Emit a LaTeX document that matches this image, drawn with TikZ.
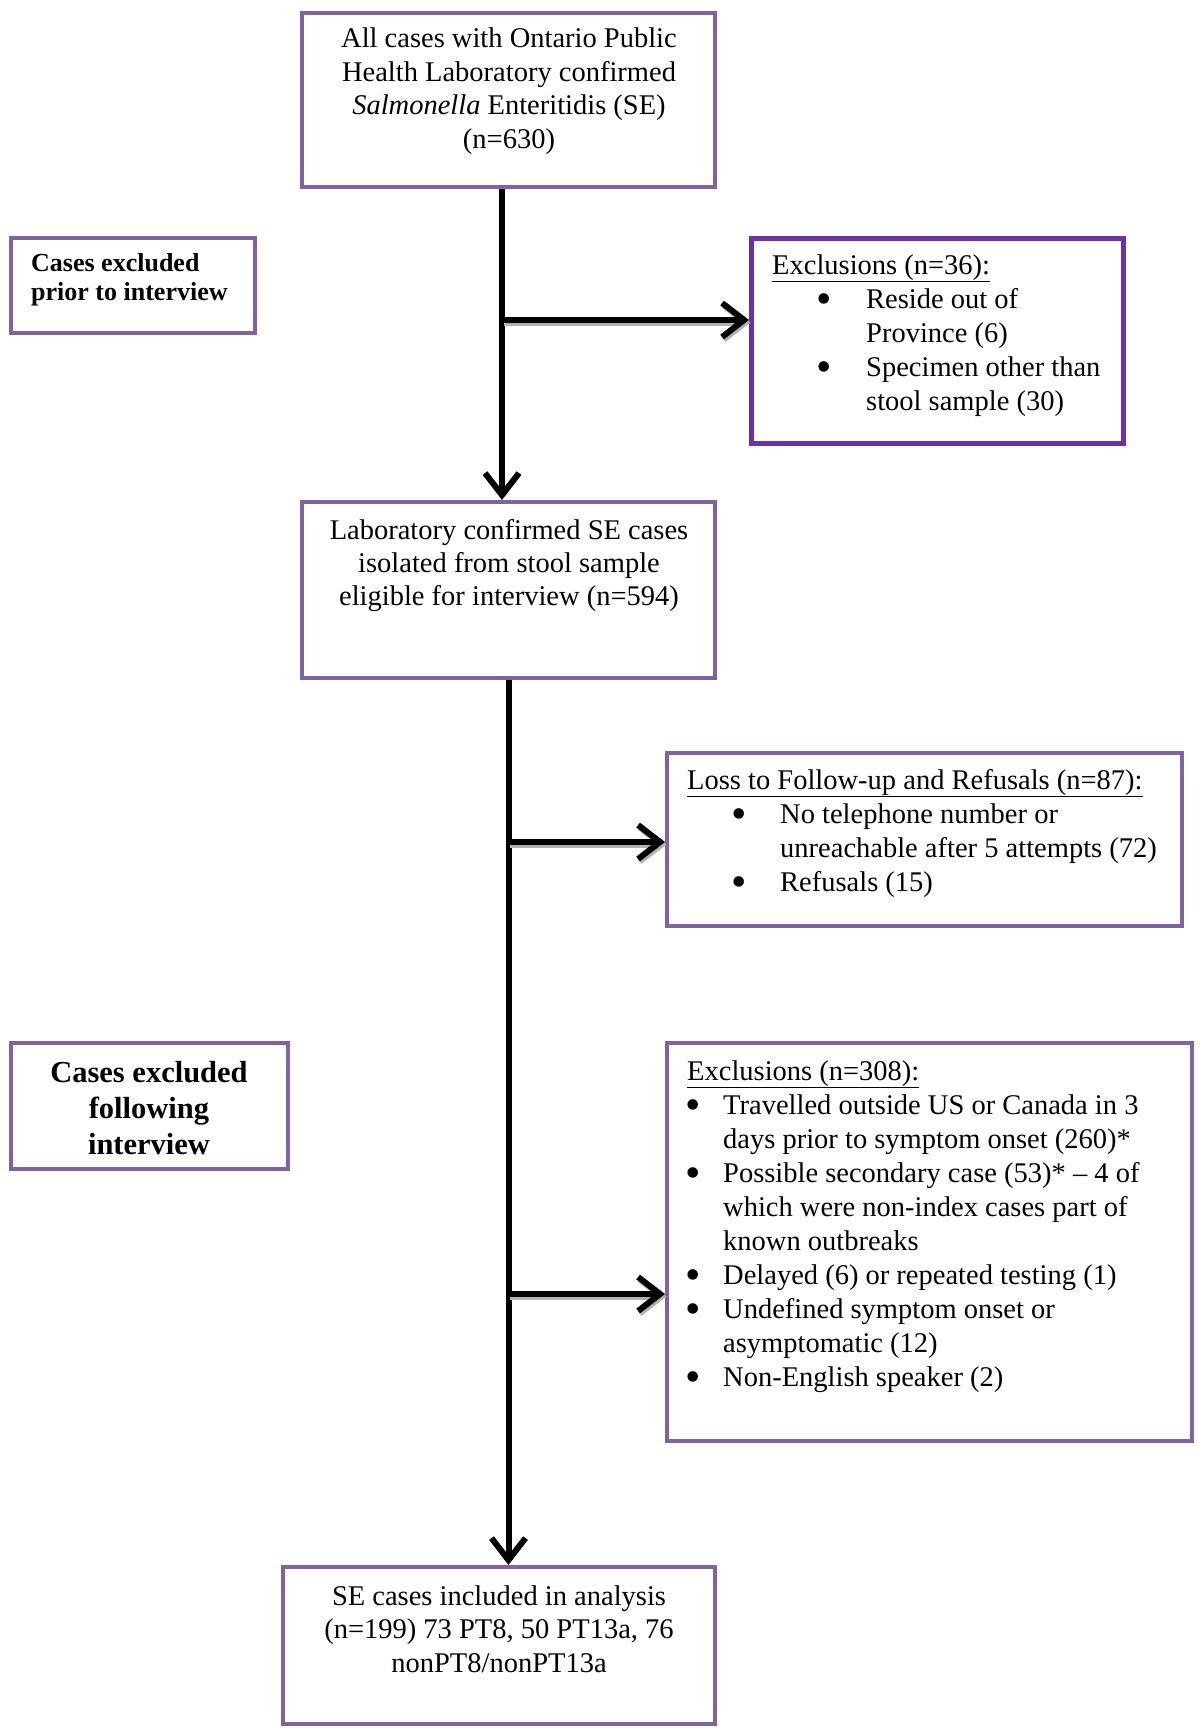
\documentclass[tikz,border=0pt]{standalone}
\usepackage{fontspec}
\setmainfont{Liberation Serif}
\usetikzlibrary{arrows.meta}
\definecolor{boxpurple}{HTML}{8064A2}
\definecolor{darkpurple}{HTML}{7030A0}
\newcommand\mainsize{\fontsize{28.5pt}{34pt}\selectfont}
\newcommand\ctr[1]{\hbox to 0pt{\hss #1\hss}}
\newcommand\bigbul{\smash{\raisebox{-5.5pt}{\fontsize{44pt}{0pt}\selectfont\textbullet}}}
\newcommand\bitem[3]{\hbox{\rlap{\hskip #1\bigbul}\hskip #2\relax #3}}
\newcommand\citem[2]{\hbox{\hskip #1\relax #2}}
\newcommand\stack[2]{\vtop{\baselineskip=#1\lineskiplimit=-\maxdimen #2}}
\begin{document}
\begin{tikzpicture}[x=1pt,y=-1pt,
  box/.style={draw=boxpurple, line width=4pt, rectangle, inner sep=0pt},
  txt/.style={inner sep=0pt, font=\mainsize},
  arr/.style={line width=6pt, -{Straight Barb[length=22pt,width=34pt]}},
  harr/.style={arr, preaction={draw=black!30, line width=6pt, transform canvas={yshift=-2.5pt, xshift=1.5pt}}}]
\useasboundingbox (0,0) rectangle (1200,1736);
% boxes
\node[box, minimum width=413pt, minimum height=174pt] (top) at (508.5,100) {};
\node[box, minimum width=244pt, minimum height=95pt] (left1) at (133,285.5) {};
\node[box, draw=darkpurple, line width=5pt, minimum width=372pt, minimum height=205pt] (ex36) at (937.5,341) {};
\node[box, minimum width=413pt, minimum height=176pt] (mid) at (508.5,590) {};
\node[box, minimum width=515pt, minimum height=173pt] (loss) at (924.5,839.5) {};
\node[box, minimum width=277pt, minimum height=126pt] (left2) at (149.5,1106) {};
\node[box, minimum width=525pt, minimum height=398pt] (ex308) at (929.5,1242) {};
\node[box, minimum width=432pt, minimum height=157pt] (final) at (499,1645.5) {};
% texts
\node[txt, anchor=base] (ttop) at (509,48) {\stack{33.5pt}{%
  \ctr{All cases with Ontario Public}\ctr{Health Laboratory confirmed}%
  \ctr{\textit{Salmonella} Enteritidis (SE)}\ctr{(n=630)}}};
\node[txt, anchor=base west, font=\fontsize{26pt}{29.5pt}\selectfont\bfseries] (tleft1) at (31,271) {\stack{29.5pt}{%
  \hbox{Cases excluded}\hbox{prior to interview}}};
\node[txt, anchor=base west] (tex36) at (772,274) {\stack{34pt}{%
  \hbox{\underline{Exclusions (n=36):}}%
  \bitem{44pt}{94pt}{Reside out of}\citem{94pt}{Province (6)}%
  \bitem{44pt}{94pt}{Specimen other than}\citem{94pt}{stool sample (30)}}};
\node[txt, anchor=base] (tmid) at (509,539) {\stack{33pt}{%
  \ctr{Laboratory confirmed SE cases}\ctr{isolated from stool sample}%
  \ctr{eligible for interview (n=594)}}};
\node[txt, anchor=base west] (tloss) at (687,789) {\stack{34pt}{%
  \hbox{\underline{Loss to Follow-up and Refusals (n=87):}}%
  \bitem{44pt}{93pt}{No telephone number or}\citem{93pt}{unreachable after 5 attempts (72)}%
  \bitem{44pt}{93pt}{Refusals (15)}}};
\node[txt, anchor=base, font=\fontsize{30.5pt}{36pt}\selectfont\bfseries] (tleft2) at (149,1082) {\stack{36pt}{%
  \ctr{Cases excluded}\ctr{following}\ctr{interview}}};
\node[txt, anchor=base west] (tex308) at (687,1080) {\stack{34pt}{%
  \hbox{\underline{Exclusions (n=308):}}%
  \bitem{-2pt}{36pt}{Travelled outside US or Canada in 3}\citem{36pt}{days prior to symptom onset (260)*}%
  \bitem{-2pt}{36pt}{Possible secondary case (53)* -- 4 of}\citem{36pt}{which were non-index cases part of}%
  \citem{36pt}{known outbreaks}%
  \bitem{-2pt}{36pt}{Delayed (6) or repeated testing (1)}%
  \bitem{-2pt}{36pt}{Undefined symptom onset or}\citem{36pt}{asymptomatic (12)}%
  \bitem{-2pt}{36pt}{Non-English speaker (2)}}};
\node[txt, anchor=base] (tfinal) at (499,1605) {\stack{33.5pt}{%
  \ctr{SE cases included in analysis}\ctr{(n=199) 73 PT8, 50 PT13a, 76}%
  \ctr{nonPT8/nonPT13a}}};
% connectors
\coordinate (j1) at (502,320);
\draw[arr] (top.south -| j1) -- (mid.north -| j1);
\draw[harr] (j1) -- (j1 -| ex36.west);
\coordinate (j2) at (mid.south |- 0,842);
\coordinate (j3) at (mid.south |- 0,1294);
\draw[arr] (mid.south) -- (mid.south |- final.north);
\draw[harr] (j2) -- (j2 -| loss.west);
\draw[harr] (j3) -- (j3 -| ex308.west);
\end{tikzpicture}
\end{document}
